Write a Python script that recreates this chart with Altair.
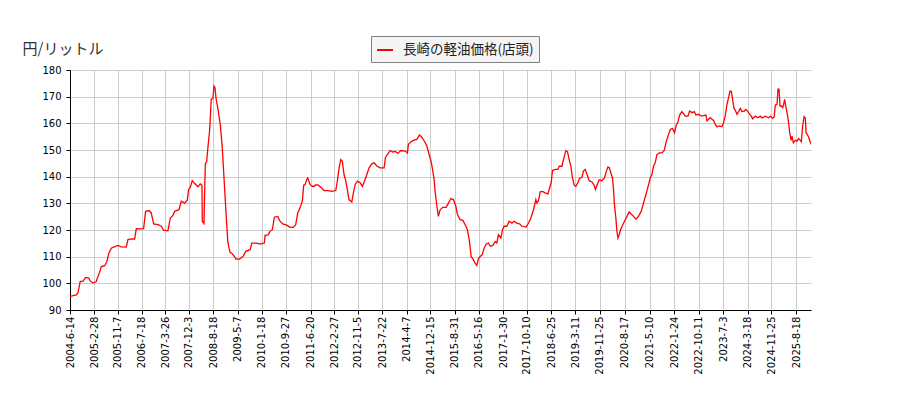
import altair as alt
import pandas as pd

series_name = "長崎の軽油価格(店頭)"

dates = [
    "2004-06-14", "2004-08-20", "2004-09-07", "2004-10-01", "2004-10-30", "2004-11-28", "2004-12-30",
    "2005-01-12", "2005-02-14", "2005-03-21", "2005-04-08", "2005-04-26", "2005-05-13", "2005-06-18",
    "2005-07-12", "2005-08-03", "2005-08-27", "2005-09-22", "2005-11-07", "2005-12-12",
    "2006-02-03", "2006-02-21", "2006-03-28", "2006-05-03", "2006-05-21", "2006-06-26", "2006-08-07",
    "2006-08-28", "2006-10-03", "2006-10-27", "2006-11-22",
    "2007-01-07", "2007-02-11", "2007-03-08", "2007-04-23", "2007-05-18", "2007-06-15", "2007-07-03",
    "2007-08-18", "2007-09-12", "2007-10-18", "2007-11-15", "2007-11-29", "2007-12-16",
    "2008-01-07", "2008-01-25", "2008-03-08", "2008-04-01", "2008-04-19", "2008-04-23", "2008-05-11",
    "2008-05-14", "2008-05-25", "2008-06-08", "2008-06-22", "2008-07-10", "2008-07-27", "2008-08-14",
    "2008-08-25", "2008-09-05", "2008-09-16", "2008-10-07", "2008-10-31", "2008-11-19", "2008-12-03",
    "2008-12-18",
    "2009-01-08", "2009-01-19", "2009-02-02", "2009-02-13", "2009-03-08", "2009-03-30", "2009-04-17",
    "2009-05-22", "2009-06-18", "2009-07-04", "2009-07-30", "2009-09-14", "2009-10-02", "2009-11-24",
    "2009-12-29",
    "2010-02-13", "2010-02-20", "2010-03-26", "2010-04-14", "2010-05-09", "2010-05-30", "2010-07-06",
    "2010-07-30", "2010-08-28", "2010-10-09", "2010-11-13", "2010-12-18",
    "2011-01-13", "2011-02-03", "2011-02-28", "2011-03-24", "2011-04-08", "2011-04-22", "2011-05-10",
    "2011-05-21", "2011-06-15", "2011-07-09", "2011-07-30", "2011-08-14", "2011-09-11", "2011-10-17",
    "2011-11-10", "2011-12-26",
    "2012-01-31", "2012-03-14", "2012-03-31", "2012-04-18", "2012-05-06", "2012-05-23", "2012-06-10",
    "2012-06-28", "2012-07-15", "2012-08-02", "2012-09-01", "2012-09-18", "2012-10-06", "2012-10-31",
    "2012-11-29", "2012-12-23",
    "2013-01-14", "2013-02-08", "2013-03-04", "2013-04-02", "2013-04-27", "2013-05-25", "2013-06-29",
    "2013-08-11", "2013-08-25", "2013-09-15", "2013-10-14", "2013-11-11", "2013-12-06",
    "2014-01-04", "2014-02-05", "2014-03-23", "2014-04-16", "2014-04-27", "2014-05-22", "2014-06-19",
    "2014-07-25", "2014-08-22", "2014-09-17", "2014-10-14", "2014-11-09", "2014-12-03", "2014-12-25",
    "2015-01-12", "2015-01-26", "2015-02-05", "2015-02-24", "2015-03-12", "2015-03-30", "2015-04-28",
    "2015-06-02", "2015-06-27", "2015-07-23", "2015-08-19", "2015-09-14", "2015-10-01", "2015-10-29",
    "2015-11-28", "2015-12-22",
    "2016-01-15", "2016-02-06", "2016-02-24", "2016-03-19", "2016-04-06", "2016-04-24", "2016-05-11",
    "2016-05-30", "2016-06-20", "2016-07-11", "2016-08-02", "2016-08-26", "2016-09-13", "2016-10-12",
    "2016-11-05", "2016-11-23", "2016-12-10",
    "2017-01-06", "2017-01-23", "2017-02-10", "2017-03-10", "2017-04-04", "2017-05-03", "2017-05-27",
    "2017-06-25", "2017-07-23", "2017-08-17", "2017-10-02", "2017-10-27", "2017-11-21", "2017-12-19",
    "2018-01-13", "2018-01-24", "2018-02-10", "2018-02-28", "2018-03-24", "2018-04-22", "2018-05-21",
    "2018-06-04", "2018-06-25", "2018-07-09", "2018-08-07", "2018-09-05", "2018-09-19", "2018-10-17",
    "2018-11-03", "2018-11-29", "2018-12-16",
    "2019-01-03", "2019-01-21", "2019-02-07", "2019-02-25", "2019-03-15", "2019-04-05", "2019-04-22",
    "2019-05-18", "2019-06-04", "2019-06-22", "2019-07-10", "2019-08-04", "2019-09-02", "2019-09-26",
    "2019-10-10", "2019-10-28", "2019-11-18", "2019-12-17",
    "2020-01-14", "2020-02-01", "2020-02-19", "2020-03-04", "2020-03-22", "2020-04-08", "2020-04-19",
    "2020-04-29", "2020-05-14", "2020-05-25", "2020-06-05", "2020-06-19", "2020-07-03", "2020-07-24",
    "2020-08-14", "2020-09-09", "2020-10-03", "2020-10-24", "2020-11-18", "2020-12-13",
    "2021-01-10", "2021-02-08", "2021-03-04", "2021-03-30", "2021-04-20", "2021-05-15", "2021-06-02",
    "2021-06-19", "2021-07-07", "2021-07-25", "2021-08-19", "2021-09-17", "2021-10-11", "2021-10-29",
    "2021-11-20", "2021-12-14",
    "2022-01-07", "2022-01-29", "2022-02-13", "2022-03-06", "2022-03-23", "2022-04-17", "2022-05-05",
    "2022-05-23", "2022-06-21", "2022-07-08", "2022-08-03", "2022-08-27", "2022-09-14", "2022-10-12",
    "2022-11-09", "2022-12-29",
    "2023-01-09", "2023-01-26", "2023-02-13", "2023-03-03", "2023-03-20", "2023-04-08", "2023-04-25",
    "2023-05-20", "2023-06-17", "2023-07-04", "2023-07-22", "2023-08-10", "2023-08-27", "2023-09-11",
    "2023-09-25", "2023-10-09", "2023-10-24", "2023-11-07", "2023-11-25", "2023-12-12", "2023-12-30",
    "2024-01-17", "2024-02-11", "2024-02-28", "2024-03-16", "2024-04-03", "2024-04-25", "2024-05-09",
    "2024-06-07", "2024-07-05", "2024-07-30", "2024-08-15", "2024-09-22", "2024-10-27", "2024-11-14",
    "2024-12-09", "2024-12-24",
    "2025-01-06", "2025-01-24", "2025-02-04", "2025-02-15", "2025-02-25", "2025-03-11", "2025-03-25",
    "2025-04-04", "2025-04-15", "2025-04-30", "2025-05-14", "2025-05-28", "2025-06-08", "2025-06-23",
    "2025-07-03", "2025-07-17", "2025-08-07", "2025-08-25", "2025-09-11", "2025-09-29", "2025-10-10",
    "2025-10-24", "2025-11-08", "2025-11-22", "2025-11-29", "2025-12-13", "2025-12-27",
    "2026-01-10", "2026-01-21",
]

prices = [
    95.1, 95.7, 96.5, 100.7, 100.7, 102.2, 102.0,
    101.0, 100.1, 100.7, 102.6, 104.2, 106.3, 106.6,
    108.2, 111.4, 113.2, 113.6, 114.2, 113.7,
    113.6, 116.4, 116.7, 116.6, 120.5, 120.4, 120.5,
    127.0, 127.3, 126.4, 122.3,
    122.0, 121.4, 119.9, 119.7, 124.5, 125.5, 127.0,
    127.6, 130.8, 130.1, 131.2, 135.2, 136.0,
    138.5, 137.7, 136.2, 137.3, 136.8, 123.3, 122.4,
    128.3, 144.8, 145.6, 151.1, 157.3, 169.0, 169.4,
    174.0, 173.4, 169.4, 165.2, 159.6, 152.1, 143.9,
    134.5,
    122.0, 115.7, 113.2, 111.6, 111.1, 110.1, 109.1,
    109.1, 109.7, 110.3, 112.0, 112.6, 115.1, 115.1,
    114.7,
    115.1, 118.0, 118.2, 119.5, 120.1, 124.8, 125.1,
    123.3, 122.3, 121.8, 121.0, 121.0,
    122.0, 126.4, 128.3, 130.8, 136.8, 137.0, 138.9,
    139.5, 137.0, 136.4, 136.4, 137.0, 136.8, 135.8,
    134.8, 134.8,
    134.5, 134.8, 138.3, 143.1, 146.4, 145.8, 140.8,
    138.5, 135.2, 131.4, 130.5, 133.9, 137.0, 138.3,
    137.7, 136.4,
    138.3, 140.8, 143.3, 144.8, 145.2, 144.0, 143.3,
    143.3, 147.1, 148.3, 149.8, 149.2, 149.5,
    148.7, 149.8, 149.6, 148.9, 152.1, 153.0, 153.6,
    154.0, 155.6, 154.8, 153.3, 151.5, 148.3, 145.6,
    142.1, 138.9, 134.5, 128.9, 125.1, 127.6, 128.5,
    128.5, 130.1, 131.8, 131.4, 128.9, 125.8, 123.9,
    123.6, 122.0,
    120.1, 115.7, 110.1, 108.8, 107.6, 106.7, 109.2,
    110.1, 110.7, 113.2, 114.7, 115.1, 113.9, 114.2,
    115.7, 115.1, 118.2,
    117.0, 120.1, 121.4, 121.4, 123.3, 122.6, 123.3,
    122.6, 122.3, 121.4, 121.1, 122.6, 124.5, 127.6,
    131.4, 130.1, 131.0, 134.3, 134.5, 133.9, 133.5,
    135.2, 137.7, 142.3, 142.7, 142.7, 143.9, 143.9,
    146.4, 149.8, 149.3,
    146.4, 143.9, 139.5, 136.8, 136.4, 137.7, 139.3,
    139.8, 142.1, 142.7, 141.1, 138.5, 138.0, 136.8,
    135.2, 137.0, 138.8, 138.5,
    139.5, 141.8, 143.6, 143.4, 141.4, 139.5, 135.2,
    129.5, 124.5, 119.5, 117.0, 118.3, 120.1, 121.8,
    123.3, 125.1, 126.8, 126.0, 125.1, 124.1,
    125.1, 127.0, 130.1, 133.3, 136.0, 139.5, 140.8,
    143.9, 145.2, 148.3, 148.9, 148.9, 149.8, 152.7,
    155.2, 157.7,
    158.1, 156.5, 159.0, 160.5, 163.0, 164.4, 163.6,
    162.7, 162.7, 164.6, 164.0, 164.4, 163.1, 163.4,
    162.7, 163.1,
    160.9, 161.5, 162.1, 161.5, 161.1, 159.6, 158.7,
    159.0, 158.7, 160.2, 162.7, 167.1, 169.6, 172.1,
    172.1, 169.0, 165.6, 164.9, 163.4, 164.4, 165.6,
    164.4, 164.6, 165.2, 164.6, 163.6, 162.7, 161.7,
    162.7, 162.1, 162.7, 162.0, 162.7, 162.1, 162.7,
    161.9, 162.4,
    166.9, 167.1, 172.8, 172.8, 166.5, 166.5, 165.9,
    167.0, 169.0, 165.9, 163.4, 160.2, 156.5, 153.6,
    155.2, 152.7, 153.6, 153.3, 154.3, 153.6, 153.1,
    159.0, 162.5, 162.0, 156.5, 155.8, 154.8,
    153.3, 152.1,
]

tick_dates = [
    "2004-6-14", "2005-2-28", "2005-11-7", "2006-7-18", "2007-3-26", "2007-12-3",
    "2008-8-18", "2009-5-7", "2010-1-18", "2010-9-27", "2011-6-20", "2012-2-27",
    "2012-11-5", "2013-7-22", "2014-4-7", "2014-12-15", "2015-8-31", "2016-5-16",
    "2017-1-30", "2017-10-10", "2018-6-25", "2019-3-11", "2019-11-25", "2020-8-17",
    "2021-5-10", "2022-1-24", "2022-10-11", "2023-7-3", "2024-3-18", "2024-11-25",
    "2025-8-18",
]
y_ticks = [90, 100, 110, 120, 130, 140, 150, 160, 170, 180]


def to_dt(s):
    y, m, d = (int(p) for p in s.split("-"))
    return alt.DateTime(year=y, month=m, date=d, utc=True)


df = pd.DataFrame({"date": dates, "price": prices})
df["series"] = series_name

tick_vals = [to_dt(s) for s in tick_dates]
x_domain = [to_dt(dates[0]), to_dt(dates[-1])]

label_expr = ("utcyear(datum.value) + '-' + (utcmonth(datum.value) + 1)"
              " + '-' + utcdate(datum.value)")

chart = alt.Chart(df).mark_line(strokeWidth=1.3, clip=True).encode(
    x=alt.X(
        "date:T",
        scale=alt.Scale(type="utc", domain=x_domain),
        axis=alt.Axis(
            values=tick_vals, labelExpr=label_expr, labelAngle=-90, title=None,
            grid=True, tickSize=4, labelPadding=2, labelFont="DejaVu Sans",
            labelFontSize=10, labelColor="#000000", labelOverlap=False,
        ),
    ),
    y=alt.Y(
        "price:Q",
        scale=alt.Scale(domain=[90, 180], nice=False, zero=False),
        axis=alt.Axis(
            values=y_ticks, title="円/リットル", titleAngle=0, titleAlign="left",
            titleBaseline="middle", titleX=-48, titleY=-22, titleFont="Noto Sans CJK JP",
            titleFontSize=15, titleFontWeight="normal", titleColor="#333333",
            grid=True, tickSize=4, labelPadding=5, labelFont="DejaVu Sans",
            labelFontSize=10, labelColor="#000000",
        ),
    ),
    color=alt.Color(
        "series:N",
        scale=alt.Scale(domain=[series_name], range=["#ff0000"]),
        legend=alt.Legend(
            title=None, orient="none", legendX=301, legendY=-34,
            symbolType="stroke", symbolSize=256, symbolStrokeWidth=2,
            labelFont="Noto Sans CJK JP", labelFontSize=13.5, labelColor="#222222",
            labelOffset=9, padding=5, fillColor="#f5f5f5", strokeColor="#808080",
            cornerRadius=0,
        ),
    ),
).properties(
    width=741,
    height=240,
    autosize=alt.AutoSizeParams(type="none"),
    padding={"left": 62, "top": 62, "right": 20, "bottom": 80},
    background="#ffffff",
).configure_view(
    stroke=None
).configure_axis(
    gridColor="#cccccc", gridWidth=1, domainColor="#000000", domainWidth=1,
    tickColor="#000000", tickWidth=1,
)

chart.save("out.html", embed_options={"renderer": "svg", "actions": False})
